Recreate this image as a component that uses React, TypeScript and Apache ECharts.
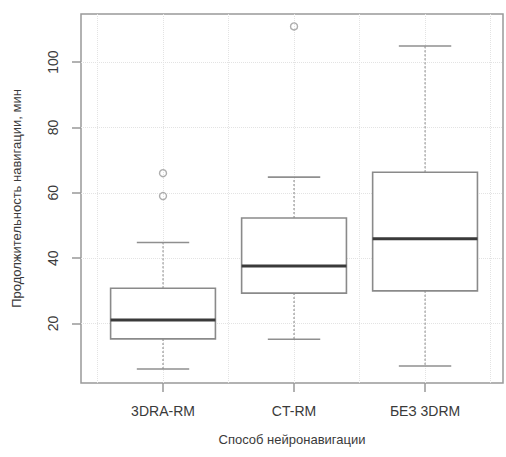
import React, { useEffect, useRef } from 'react';
import * as echarts from 'echarts';

const categories = ['3DRA-RM', 'CT-RM', 'БЕЗ 3DRM'];
const positions = [1, 2, 3];
const whiskerLow = [6.1, 15.2, 7.0];
const q1 = [15.3, 29.3, 30.0];
const median = [21.1, 37.6, 45.9];
const q3 = [30.8, 52.3, 66.3];
const whiskerHigh = [44.8, 64.8, 104.9];
const outlierGroup = [1, 1, 2];
const outlierValue = [66.0, 59.0, 110.9];
const yTicks = [20, 40, 60, 80, 100];
const xGridLines = [0.5, 1, 1.5, 2, 2.5, 3, 3.5];
const yTitle = 'Продолжительность навигации, мин';
const xTitle = 'Способ нейронавигации';

const FONT = '"Liberation Sans", Arial, sans-serif';
const TEXT = '#3a3a3a';

export default function App() {
  const ref = useRef<HTMLDivElement>(null);
  useEffect(() => {
    if (!ref.current) return;
    const chart = echarts.init(ref.current, null, { renderer: 'svg' });
    const boxData = positions.map((p, i) => [p, whiskerLow[i], q1[i], median[i], q3[i], whiskerHigh[i]]);
    const outData = outlierGroup.map((g, i) => [g, outlierValue[i]]);
    const xMin = 0.374;
    const xMax = 3.595;
    chart.setOption({
      animation: false,
      backgroundColor: '#fff',
      textStyle: { fontFamily: FONT },
      grid: { left: 81, top: 14, right: 3, bottom: 74, show: true, borderColor: '#999', borderWidth: 1.5, backgroundColor: '#fff' },
      xAxis: [
        {
          type: 'value', min: xMin, max: xMax, position: 'bottom',
          axisLine: { show: false },
          axisTick: { show: true, length: 9, customValues: positions, lineStyle: { color: '#999', width: 1.5 } },
          axisLabel: { customValues: positions, formatter: (v: number) => categories[Math.round(v) - 1] ?? '', margin: 21, fontSize: 14, color: TEXT, fontFamily: FONT },
          splitLine: { show: false },
          name: xTitle, nameLocation: 'middle', nameGap: 50,
          nameTextStyle: { fontSize: 13, color: TEXT, fontFamily: FONT },
        },
        {
          type: 'value', min: xMin, max: xMax, position: 'top',
          axisLine: { show: false },
          axisTick: { show: false, customValues: xGridLines },
          axisLabel: { show: false },
          splitLine: { show: true, lineStyle: { color: '#e3e3e3', type: 'dotted', width: 1 } },
        },
      ],
      yAxis: {
        type: 'value', min: 1.8, max: 114.7,
        axisLine: { show: false },
        axisTick: { show: true, length: 9, customValues: yTicks, lineStyle: { color: '#999', width: 1.5 } },
        axisLabel: { customValues: yTicks, rotate: 90, margin: 21, fontSize: 14, color: TEXT, fontFamily: FONT },
        splitLine: { show: true, lineStyle: { color: '#e3e3e3', type: 'dotted', width: 1 } },
        name: yTitle, nameLocation: 'middle', nameGap: 58, nameRotate: 90,
        nameTextStyle: { fontSize: 13, color: TEXT, fontFamily: FONT },
      },
      series: [
        {
          type: 'custom',
          xAxisIndex: 0,
          data: boxData,
          encode: { x: 0, y: [1, 2, 3, 4, 5] },
          renderItem: (params: any, api: any) => {
            const x = api.value(0);
            const lo = api.coord([x, api.value(1)]);
            const b1 = api.coord([x, api.value(2)]);
            const md = api.coord([x, api.value(3)]);
            const b3 = api.coord([x, api.value(4)]);
            const hi = api.coord([x, api.value(5)]);
            const w = api.size([0.8, 0])[0];
            const cw = w / 4;
            const cx = lo[0];
            const whisk = { stroke: '#999', lineWidth: 1.2, lineDash: [2, 2] };
            const cap = { stroke: '#8f8f8f', lineWidth: 1.6 };
            return {
              type: 'group',
              children: [
                { type: 'line', shape: { x1: cx, y1: b3[1], x2: cx, y2: hi[1] }, style: whisk },
                { type: 'line', shape: { x1: cx, y1: b1[1], x2: cx, y2: lo[1] }, style: whisk },
                { type: 'line', shape: { x1: cx - cw, y1: hi[1], x2: cx + cw, y2: hi[1] }, style: cap },
                { type: 'line', shape: { x1: cx - cw, y1: lo[1], x2: cx + cw, y2: lo[1] }, style: cap },
                { type: 'rect', shape: { x: cx - w / 2, y: b3[1], width: w, height: b1[1] - b3[1] }, style: { fill: '#fff', stroke: '#8a8a8a', lineWidth: 1.6 } },
                { type: 'line', shape: { x1: cx - w / 2, y1: md[1], x2: cx + w / 2, y2: md[1] }, style: { stroke: '#3a3a3a', lineWidth: 3 } },
              ],
            };
          },
        },
        {
          type: 'scatter',
          xAxisIndex: 0,
          data: outData,
          symbol: 'circle',
          symbolSize: 7,
          itemStyle: { color: 'rgba(0,0,0,0)', borderColor: '#999', borderWidth: 1.4 },
        },
      ],
    });
    return () => chart.dispose();
  }, []);
  return <div ref={ref} style={{ position: 'fixed', left: 0, top: 0, width: 506, height: 457 }} />;
}
